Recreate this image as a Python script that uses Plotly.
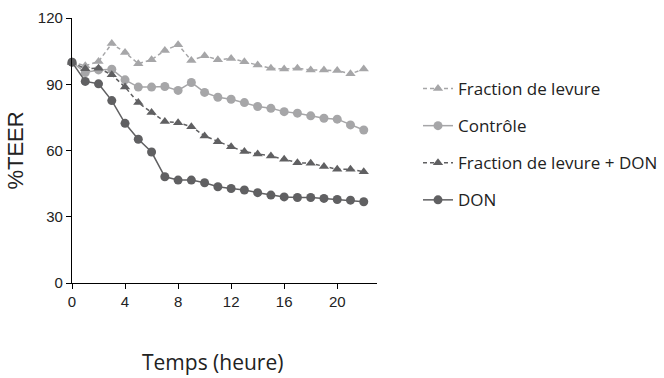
import plotly.graph_objects as go

hours = list(range(0, 23))

fraction_levure = [100, 98.4, 100.3, 108.4, 104.4, 99.3, 101.1, 105.3, 107.9, 100.8, 102.9, 101.1,
                   101.7, 100.2, 98.7, 97.2, 96.9, 97.2, 96.5, 96.5, 96.2, 94.7, 96.9]
controle = [100, 95.3, 96.5, 96.8, 92.0, 88.7, 88.7, 89.0, 87.2, 90.8, 86.3, 84.1,
            83.2, 81.7, 79.9, 79.1, 77.6, 76.9, 75.7, 74.6, 74.2, 71.6, 69.3]
fraction_levure_don = [100, 97.0, 97.3, 94.3, 88.7, 81.7, 77.2, 73.1, 72.6, 70.8, 66.6, 64.0,
                       61.7, 59.5, 58.4, 57.5, 56.0, 54.5, 54.2, 52.7, 51.5, 51.5, 50.4]
don = [100, 91.3, 90.2, 82.6, 72.3, 65.1, 59.3, 48.1, 46.6, 46.6, 45.4, 43.6,
       42.8, 42.1, 40.9, 39.8, 39.0, 38.7, 38.7, 38.3, 37.8, 37.5, 36.8]

x_ticks = [0, 4, 8, 12, 16, 20]
y_ticks = [0, 30, 60, 90, 120]

LIGHT = "#a6a6a8"
DARK = "#606062"

series = [
    ("Fraction de levure", fraction_levure, LIGHT, "triangle-up", "dash"),
    ("Contrôle", controle, LIGHT, "circle", "solid"),
    ("Fraction de levure + DON", fraction_levure_don, DARK, "triangle-up", "dash"),
    ("DON", don, DARK, "circle", "solid"),
]

fig = go.Figure()
for i, (name, vals, col, sym, dash) in enumerate(series):
    fig.add_trace(go.Scatter(
        x=hours, y=vals, name=name, mode="lines+markers",
        line=dict(color=col, width=1.5, dash="4px,3px" if dash == "dash" else "solid"),
        marker=dict(symbol=sym, size=9, color=col),
        cliponaxis=False, legendgroup=f"g{i}",
    ))

fig.update_layout(
    width=664, height=378,
    margin=dict(l=72, r=287, t=18, b=95, autoexpand=False),
    plot_bgcolor="white", paper_bgcolor="white",
    showlegend=True,
    legend=dict(
        x=(418 - 72) / 305, y=0.80, xanchor="left", yanchor="top",
        font=dict(family="Open Sans, Lato, sans-serif", size=17, color="#222222"),
        tracegroupgap=12, traceorder="grouped", itemwidth=30,
        bgcolor="rgba(0,0,0,0)",
    ),
    font=dict(family="Liberation Sans, Arial, sans-serif", color="#222222"),
    annotations=[dict(
        text="Temps (heure)", xref="paper", yref="paper", x=(212 - 72) / 305, y=0,
        yshift=-79, xanchor="center", yanchor="middle", showarrow=False,
        font=dict(family="Open Sans, Lato, sans-serif", size=21, color="#222222"),
    )],
)

fig.update_xaxes(
    range=[0, 23], tickvals=x_ticks, ticktext=[str(t) for t in x_ticks],
    showline=True, linecolor="black", linewidth=1.2, ticks="outside", ticklen=5,
    tickcolor="black", showgrid=False, zeroline=False, automargin=False,
    tickfont=dict(size=15),
)
fig.update_yaxes(
    range=[0, 120], tickvals=y_ticks, ticktext=[str(t) for t in y_ticks],
    showline=True, linecolor="black", linewidth=1.2, ticks="outside", ticklen=5,
    tickcolor="black", showgrid=False, zeroline=False, automargin=False,
    tickfont=dict(size=15),
    title=dict(text="%TEER", font=dict(family="Liberation Sans, Arial", size=22, color="#222222"), standoff=8),
)

fig.write_html(
    "out.html",
    config={"displayModeBar": False},
    post_script="document.body.style.margin='0';document.body.style.padding='0';",
)
